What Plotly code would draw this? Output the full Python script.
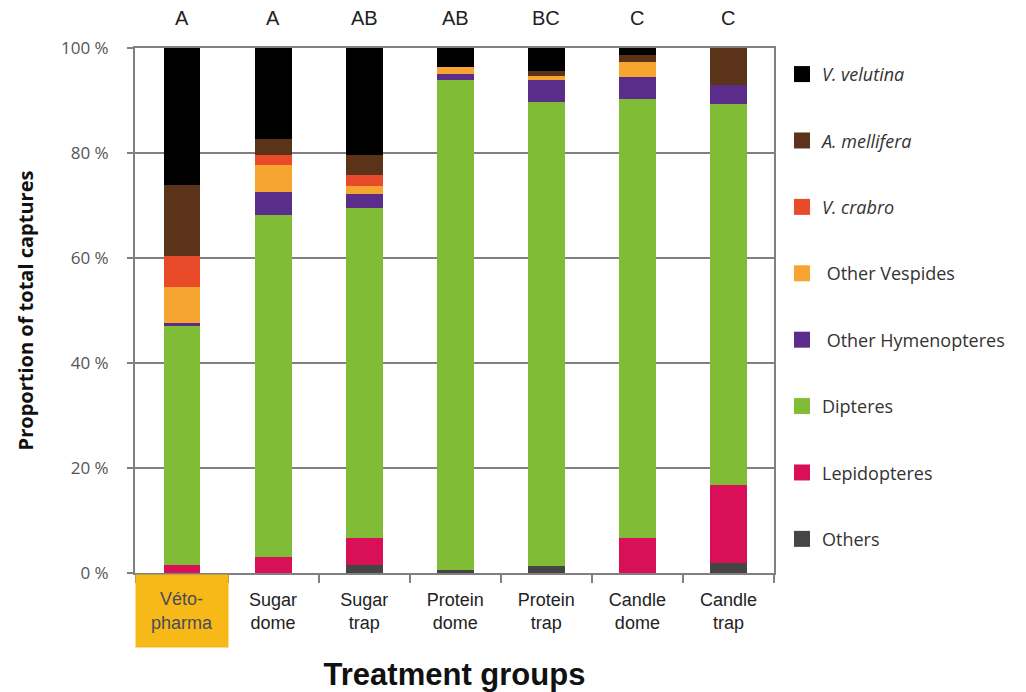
import plotly.graph_objects as go

categories = ["Véto-<br>pharma", "Sugar<br>dome", "Sugar<br>trap", "Protein<br>dome",
              "Protein<br>trap", "Candle<br>dome", "Candle<br>trap"]
letters = ["A", "A", "AB", "AB", "BC", "C", "C"]
y_ticks = [0, 20, 40, 60, 80, 100]
y_ticktext = ["0 %", "20 %", "40 %", "60 %", "80 %", "100 %"]

# stacked bottom -> top
others        = [0.0, 0.0, 1.5, 0.5, 1.3, 0.0, 2.0]
lepidopteres  = [1.5, 3.0, 5.1, 0.0, 0.0, 6.6, 14.8]
dipteres      = [45.5, 65.1, 62.9, 93.5, 88.5, 83.7, 72.5]
other_hymeno  = [0.6, 4.4, 2.6, 1.0, 4.2, 4.1, 3.6]
other_vesp    = [6.9, 5.3, 1.7, 1.3, 0.7, 3.0, 0.0]
v_crabro      = [5.9, 1.8, 2.1, 0.0, 0.0, 0.0, 0.0]
a_mellifera   = [13.5, 3.1, 3.7, 0.0, 0.9, 1.3, 7.1]
v_velutina    = [26.1, 17.3, 20.4, 3.7, 4.4, 1.3, 0.0]

series = [
    ("Others", others, "#454545"),
    ("Lepidopteres", lepidopteres, "#d90f58"),
    ("Dipteres", dipteres, "#80bc36"),
    (" Other Hymenopteres", other_hymeno, "#5b2d8a"),
    (" Other Vespides", other_vesp, "#f6a630"),
    ("<i>V. crabro</i>", v_crabro, "#e84a2a"),
    ("<i>A. mellifera</i>", a_mellifera, "#5a3318"),
    ("<i>V. velutina</i>", v_velutina, "#000000"),
]

fig = go.Figure()
for name, vals, col in series:
    fig.add_trace(go.Bar(x=categories, y=vals, name=name, marker_color=col,
                         marker_line_width=0, showlegend=False))
# legend entries, top to bottom
for name, vals, col in reversed(series):
    fig.add_trace(go.Scatter(x=[None], y=[None], mode="markers", name=name,
                             marker=dict(symbol="square", size=16, color=col),
                             legendgroup=name, showlegend=True))

for cat, let in zip(categories, letters):
    fig.add_annotation(x=cat, y=1, xref="x", yref="paper", yanchor="bottom",
                       yshift=17, text=let, showarrow=False,
                       font=dict(family="Liberation Sans, Arial", size=20, color="#222"))

fig.add_annotation(x=categories[0], y=0, xref="x", yref="paper", yanchor="top",
                   yshift=-1, text=categories[0], showarrow=False,
                   bgcolor="#f7b918", width=90, height=70,
                   font=dict(family="Liberation Sans, Arial", size=18, color="#4a4a5a"))

fig.update_layout(
    width=1026, height=692,
    margin=dict(l=135, r=252, t=48, b=119, autoexpand=False),
    paper_bgcolor="white", plot_bgcolor="white",
    barmode="stack", bargap=0.595,
    legend=dict(x=1.0125, y=0.985, xanchor="left", yanchor="top",
                traceorder="grouped", tracegroupgap=40,
                font=dict(family="Open Sans", size=18, color="#333")),
    xaxis=dict(title=dict(text="<b>Treatment groups</b>", standoff=40,
                          font=dict(family="Liberation Sans, Arial", size=31, color="#111")),
               tickvals=categories, ticktext=[""] + categories[1:],
               tickfont=dict(family="Liberation Sans, Arial", size=18, color="#222"),
               showline=True, linecolor="#808080", linewidth=2, mirror=True,
               ticks="outside", tickson="boundaries", ticklen=8, tickcolor="#808080",
               tickwidth=2, showgrid=False, automargin=False, ticklabelstandoff=9),
    yaxis=dict(title=dict(text="<b>Proportion of total captures</b>", standoff=22,
                          font=dict(family="Open Sans", size=20, color="#111")),
               range=[0, 100], tickvals=y_ticks, ticktext=y_ticktext,
               tickfont=dict(family="Open Sans", size=17, color="#555"),
               showline=True, linecolor="#808080", linewidth=2, mirror=True,
               ticks="outside", ticklen=6, tickcolor="#808080", tickwidth=2,
               showgrid=True, gridcolor="#808080", gridwidth=2, zeroline=False,
               ticklabelstandoff=15, automargin=False),
)

fig.write_html("out.html", config={"displayModeBar": False},
               post_script="document.body.style.margin='0px';")
